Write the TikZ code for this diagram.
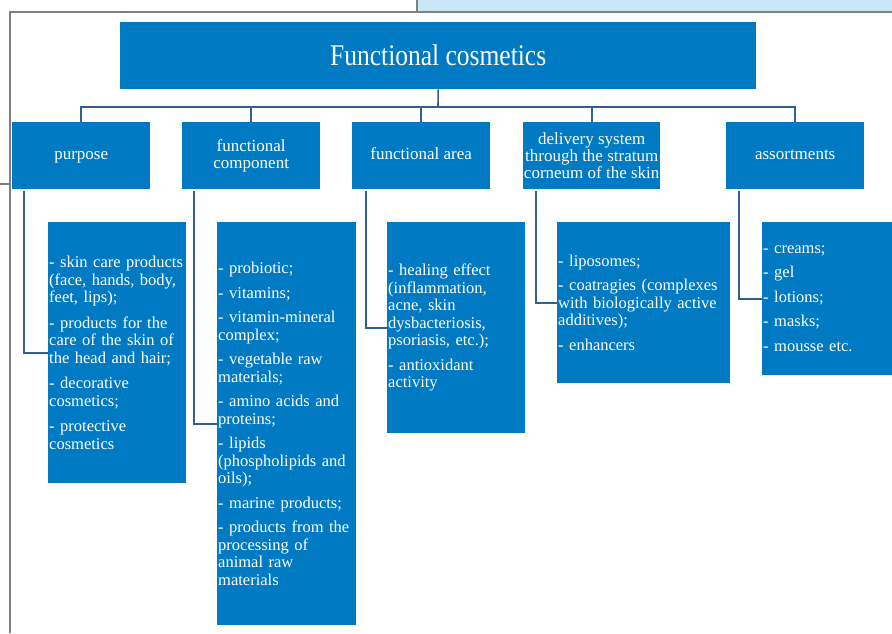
\documentclass[tikz,border=0pt]{standalone}
\usepackage{fontspec}
\usepackage{graphicx}
\setmainfont{Liberation Serif}
\definecolor{boxblue}{RGB}{0,122,194}
\definecolor{connblue}{RGB}{50,95,145}
\definecolor{framegray}{RGB}{128,128,128}
\definecolor{topblue}{RGB}{200,232,248}
\tikzset{
  box/.style={fill=boxblue, draw=none, text=white, inner sep=0pt, anchor=north west},
  hdr/.style={box, minimum width=138pt, minimum height=67pt, align=center, font=\fontsize{17}{17}\selectfont},
  lst/.style={box, align=left, inner xsep=1pt, font=\fontsize{16.5}{17.5}\selectfont},
  conn/.style={draw=connblue, line width=1.6pt},
  framel/.style={draw=framegray, line width=2pt}
}
\begin{document}
\begin{tikzpicture}[x=1pt,y=-1pt]
\useasboundingbox (0,0) rectangle (892,633);
% page frame
\fill[topblue] (417,0) rectangle (892,12);
\draw[framel] (417,0) -- (417,12);
\draw[framel] (892,12) -- (10,12) -- (10,633);
\draw[framel] (0,184) -- (10,184);
% title
\node[box, minimum width=636pt, minimum height=67pt, font=\fontsize{30}{30}\selectfont] (title) at (120,22) {\scalebox{0.85}[1]{Functional cosmetics}};
% headers
\node[hdr] (h1) at (12,122) {\strut purpose};
\node[hdr] (h2) at (182,122) {functional\\component};
\node[hdr] (h3) at (352,122) {\strut functional area};
\node[hdr, minimum width=137pt] (h4) at (523,122) {delivery system\\through the stratum\\corneum of the skin};
\node[hdr] (h5) at (726,122) {\strut assortments};
% lists
\node[lst, text width=136pt, minimum width=138pt, minimum height=261pt] (l1) at (48,222)
 {- skin care products\\(face, hands, body,\\feet, lips);\\[8pt]
  - products for the\\care of the skin of\\the head and hair;\\[8pt]
  - decorative\\cosmetics;\\[8pt]
  - protective\\cosmetics};
\node[lst, text width=137pt, minimum width=139pt, minimum height=403pt] (l2) at (217,222)
 {- probiotic;\\[7pt]
  - vitamins;\\[7pt]
  - vitamin-mineral\\complex;\\[7pt]
  - vegetable raw\\materials;\\[7pt]
  - amino acids and\\proteins;\\[7pt]
  - lipids\\(phospholipids and\\oils);\\[7pt]
  - marine products;\\[7pt]
  - products from the\\processing of\\animal raw\\materials};
\node[lst, text width=136pt, minimum width=138pt, minimum height=211pt] (l3) at (387,222)
 {- healing effect\\(inflammation,\\acne, skin\\dysbacteriosis,\\psoriasis, etc.);\\[7pt]
  - antioxidant\\activity};
\node[lst, text width=171pt, minimum width=173pt, minimum height=161pt] (l4) at (557,222)
 {- liposomes;\\[7pt]
  - coatragies (complexes\\with biologically active\\additives);\\[7pt]
  - enhancers};
\node[lst, text width=128pt, minimum width=130pt, minimum height=153pt] (l5) at (762,222)
 {- creams;\\[7pt]
  - gel\\[7pt]
  - lotions;\\[7pt]
  - masks;\\[7pt]
  - mousse etc.};
% tree connectors
\coordinate (j) at (438,107);
\draw[conn] (title.south) -- (j);
\foreach \n in {h1,h2,h3,h4,h5} \draw[conn] (j) -| (\n.north);
% side connectors
\draw[conn] ([xshift=12pt,yshift=-2pt]h1.south west) |- (l1.west);
\draw[conn] ([xshift=12pt,yshift=-2pt]h2.south west) |- (l2.west);
\draw[conn] ([xshift=14pt,yshift=-2pt]h3.south west) |- (l3.west);
\draw[conn] ([xshift=13pt,yshift=-2pt]h4.south west) |- (l4.west);
\draw[conn] ([xshift=13pt,yshift=-2pt]h5.south west) |- (l5.west);
\end{tikzpicture}
\end{document}
